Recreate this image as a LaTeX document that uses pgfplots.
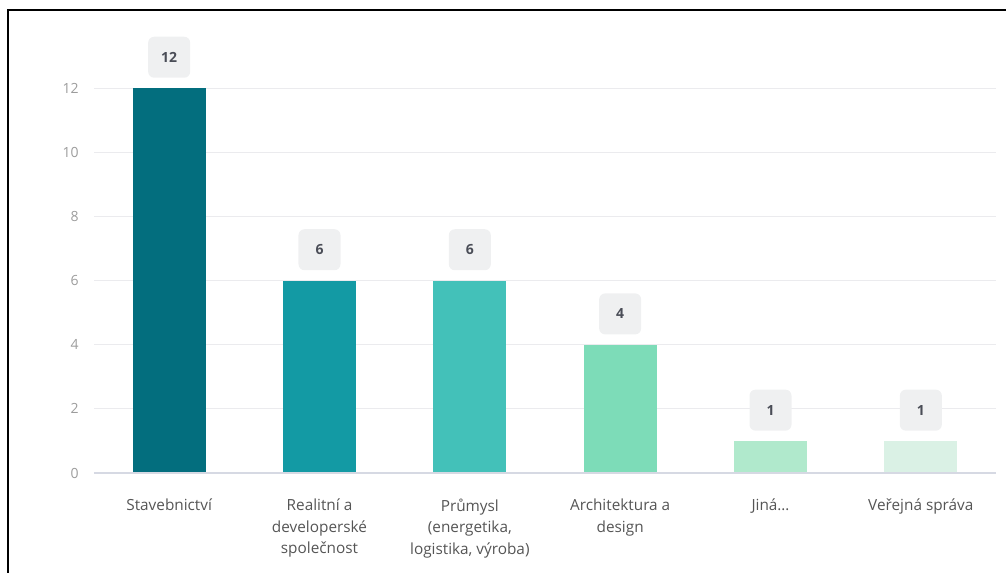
\documentclass[border=0pt]{standalone}
\usepackage{fontspec}
\setmainfont{Open Sans}
\usepackage{pgfplots}
\pgfplotsset{compat=1.18}
\definecolor{c1}{HTML}{036E7E}
\definecolor{c2}{HTML}{139AA4}
\definecolor{c3}{HTML}{43C1B9}
\definecolor{c4}{HTML}{7DDCB8}
\definecolor{c5}{HTML}{B0E9CC}
\definecolor{c6}{HTML}{DAF1E5}
\definecolor{boxc}{HTML}{EFF0F1}
\definecolor{valc}{HTML}{4A4D57}
\definecolor{ytc}{HTML}{9C9C9C}
\definecolor{xtc}{HTML}{555555}
\definecolor{gridc}{HTML}{EBEBEE}
\definecolor{basec}{HTML}{D6D9E3}
\begin{document}
\begin{tikzpicture}
\path[use as bounding box] (-70.5pt,-74.25pt) rectangle (684pt,354.75pt);
\draw[black, line width=1.5pt] (-64.5pt,-80pt) -- (-64.5pt,347.25pt) -- (690pt,347.25pt);
\begin{axis}[
  at={(0,0)}, anchor=south west,
  scale only axis, width=676.5pt, height=288.75pt,
  xmin=-0.5, xmax=5.5, ymin=0, ymax=12,
  ytick={0,2,4,6,8,10,12},
  xtick={0,1,2,3,4,5},
  xticklabels={Stavebnictví, {Realitní a\\developerské\\společnost}, {Průmysl\\(energetika,\\logistika, výroba)}, {Architektura a\\design}, {Jiná\ldots}, {Veřejná správa}},
  ymajorgrids, grid style={draw=gridc, line width=0.75pt},
  axis line style={draw=none},
  major tick length=0pt,
  /pgf/number format/assume math mode=true,
  yticklabel style={font=\fontsize{10.5}{12}\selectfont, text=ytc, xshift=-8pt},
  xticklabel style={font=\fontsize{11.5}{16}\selectfont, text=xtc, align=center, yshift=-16pt},
  ybar, bar width=54.75pt, bar shift=0pt,
  clip=false,
  nodes near coords,
  every node near coord/.append style={font=\bfseries\fontsize{10.5}{12}\selectfont, text=valc, fill=boxc, rounded corners=4.5pt, minimum width=31.5pt, minimum height=30.75pt, anchor=south, yshift=7.5pt, inner sep=0pt},
]
\addplot[fill=c1, draw=none] coordinates {(0,12)};
\addplot[fill=c2, draw=none] coordinates {(1,6)};
\addplot[fill=c3, draw=none] coordinates {(2,6)};
\addplot[fill=c4, draw=none] coordinates {(3,4)};
\addplot[fill=c5, draw=none] coordinates {(4,1)};
\addplot[fill=c6, draw=none] coordinates {(5,1)};
\draw[basec, line width=0.9pt] (axis cs:-0.5,0) -- (axis cs:5.5,0);
\end{axis}
\end{tikzpicture}
\end{document}
